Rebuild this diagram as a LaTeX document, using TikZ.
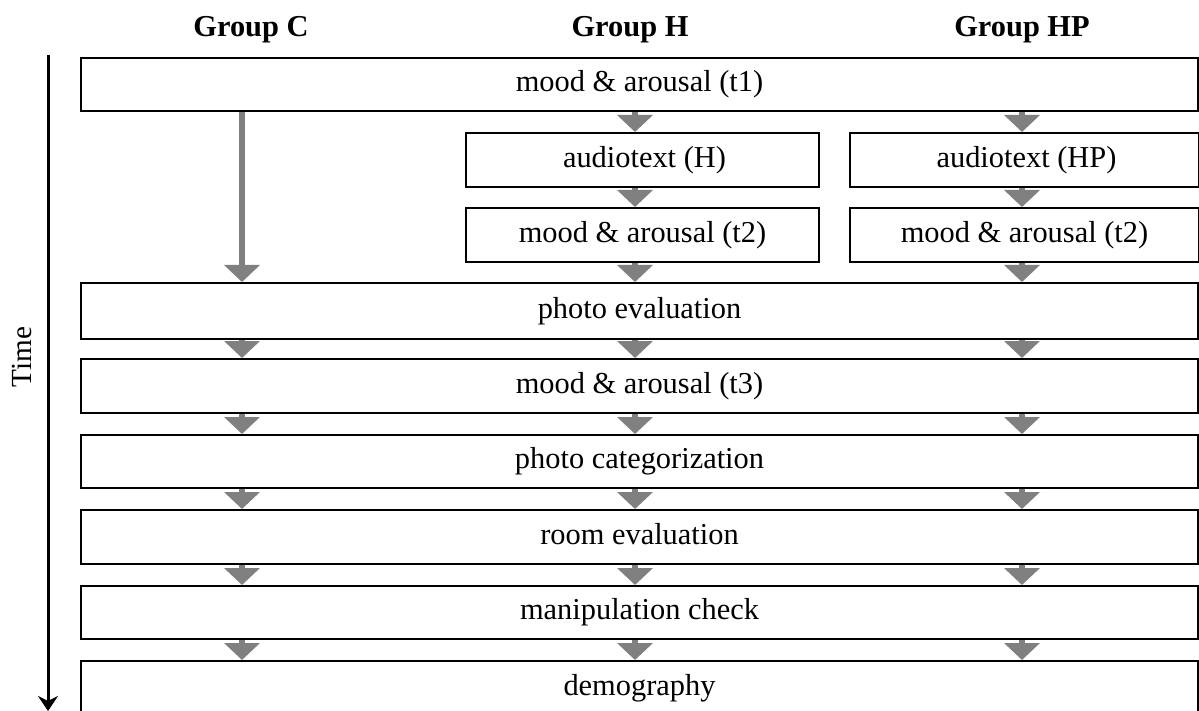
\documentclass[tikz,border=0pt]{standalone}
\usepackage{fontspec}
\setmainfont{Liberation Serif}
\usetikzlibrary{arrows.meta,fit}

\tikzset{
  box/.style={draw=black, line width=1pt, inner sep=0pt, fill=white},
  lbl/.style={font=\fontsize{15.2}{18}\selectfont, inner sep=0pt,
              text height=10.6pt, text depth=3.4pt},
  head/.style={font=\bfseries\fontsize{15.2}{18}\selectfont},
  flow/.style={draw=gray, line width=3pt,
               -{Triangle[width=17.5pt,length=8.5pt]}},
  timeline/.style={draw=black, line width=1.5pt,
               -{Stealth[width=10pt,length=7.5pt,inset=2.5pt]}}
}

\begin{document}
\begin{tikzpicture}[x=0.5pt,y=-0.5pt]
  \useasboundingbox (0,0) rectangle (1199,711);
  \clip (0,0) rectangle (1199,711);

  % column headings
  \node[head] (gC)  at (251,30)  {Group C};
  \node[head] (gH)  at (630,30)  {Group H};
  \node[head] (gHP) at (1022,30) {Group HP};

  % time axis
  \coordinate (tTop) at (48,55);
  \coordinate (tBot) at (48,711);
  \draw[timeline] (tTop) -- (tBot);
  \node[rotate=90, font=\fontsize{14.6}{18}\selectfont] (time) at (22,357) {Time};

  % column positions of the flow arrows
  \coordinate (cC)  at (242,0);
  \coordinate (cH)  at (635,0);
  \coordinate (cHP) at (1022,0);

  % steps shared by all groups
  \node[box, fit={(81,58) (1198,111)},  label={[lbl]center:mood \& arousal (t1)}] (m1) {};
  \node[box, fit={(81,283) (1198,339)}, label={[lbl]center:photo evaluation}] (photo) {};
  \node[box, fit={(81,359) (1198,413)}, label={[lbl]center:mood \& arousal (t3)}] (m3) {};
  \node[box, fit={(81,435) (1198,488)}, label={[lbl]center:photo categorization}] (cat) {};
  \node[box, fit={(81,510) (1198,564)}, label={[lbl]center:room evaluation}] (room) {};
  \node[box, fit={(81,586) (1198,639)}, label={[lbl]center:manipulation check}] (manip) {};
  \node[box, fit={(81,661) (1198,716)}, label={[lbl]center:demography}] (demo) {};

  % group-specific steps
  \node[box, fit={(466,133) (819,187)},  label={[lbl,xshift=1pt]center:audiotext (H)}] (audH) {};
  \node[box, fit={(466,208) (819,262)},  label={[lbl]center:mood \& arousal (t2)}] (m2H) {};
  \node[box, fit={(850,133) (1199,187)}, label={[lbl,xshift=1pt]center:audiotext (HP)}] (audHP) {};
  \node[box, fit={(850,208) (1199,262)}, label={[lbl]center:mood \& arousal (t2)}] (m2HP) {};

  % group C skips the audiotext
  \draw[flow] (m1.south -| cC) -- (photo.north -| cC);

  % group H
  \draw[flow] (m1.south -| cH)  -- (audH.north -| cH);
  \draw[flow] (audH.south -| cH) -- (m2H.north -| cH);
  \draw[flow] (m2H.south -| cH)  -- (photo.north -| cH);

  % group HP
  \draw[flow] (m1.south -| cHP)   -- (audHP.north -| cHP);
  \draw[flow] (audHP.south -| cHP) -- (m2HP.north -| cHP);
  \draw[flow] (m2HP.south -| cHP)  -- (photo.north -| cHP);

  % common sequence, one arrow per group
  \foreach \a/\b in {photo/m3, m3/cat, cat/room, room/manip, manip/demo}{
    \foreach \c in {cC, cH, cHP}{
      \draw[flow] (\a.south -| \c) -- (\b.north -| \c);
    }
  }
\end{tikzpicture}
\end{document}
